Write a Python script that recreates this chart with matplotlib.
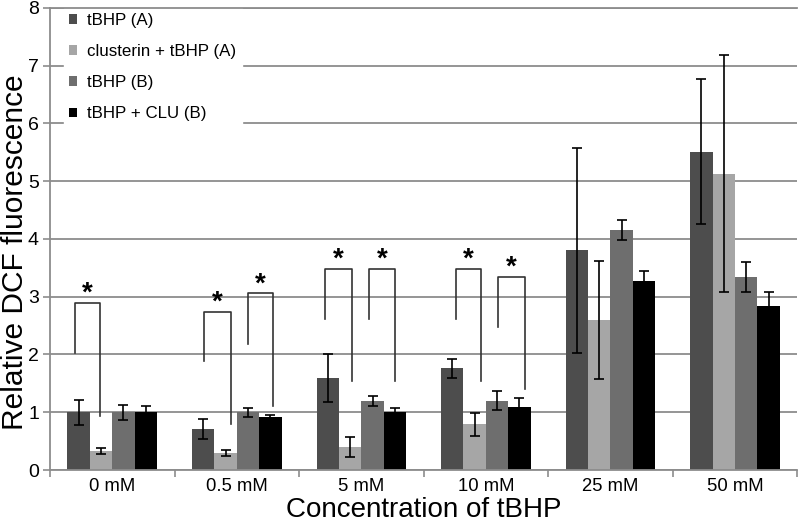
import matplotlib
matplotlib.use('Agg')
import matplotlib.pyplot as plt
import numpy as np

plt.rcParams['font.family'] = ['Liberation Sans', 'DejaVu Sans']

groups = ['0 mM', '0.5 mM', '5 mM', '10 mM', '25 mM', '50 mM']
series = ['tBHP (A)', 'clusterin + tBHP (A)', 'tBHP (B)', 'tBHP + CLU (B)']
colors = ['#4d4d4d', '#a6a6a6', '#6e6e6e', '#000000']

tbhp_a = [1.0, 0.71, 1.59, 1.76, 3.80, 5.51]
clu_a = [0.33, 0.30, 0.40, 0.79, 2.60, 5.13]
tbhp_b = [1.0, 1.0, 1.20, 1.20, 4.15, 3.34]
clu_b = [1.0, 0.91, 1.00, 1.09, 3.28, 2.84]

err_a = [0.22, 0.17, 0.42, 0.17, 1.78, 1.25]
err_clu_a = [0.05, 0.05, 0.18, 0.20, 1.02, 2.05]
err_b = [0.13, 0.08, 0.09, 0.16, 0.17, 0.26]
err_clu_b = [0.10, 0.05, 0.08, 0.15, 0.17, 0.25]

values = [tbhp_a, clu_a, tbhp_b, clu_b]
errors = [err_a, err_clu_a, err_b, err_clu_b]

# significance brackets: group, left x offset, right x offset, left leg bottom, top, right leg bottom
brackets = [
    (0, -0.30, -0.096, 2.02, 2.89, 0.94),
    (1, -0.265, -0.05, 1.88, 2.74, 0.80),
    (1, 0.088, 0.29, 2.18, 3.06, 1.10),
    (2, -0.29, -0.074, 2.62, 3.48, 1.54),
    (2, 0.06, 0.27, 2.62, 3.48, 1.54),
    (3, -0.243, -0.036, 2.62, 3.48, 1.54),
    (3, 0.097, 0.318, 2.48, 3.34, 1.40),
]

fig = plt.figure(figsize=(8, 5.24), dpi=100)
ax = fig.add_axes([0.0625, 0.103, 0.934, 0.882])

x = np.arange(len(groups))
w = 0.18
for i in range(4):
    ax.bar(x + (i - 1.5) * w, values[i], w, color=colors[i], label=series[i], zorder=2)
    ax.errorbar(x + (i - 1.5) * w, values[i], yerr=errors[i], fmt='none',
                ecolor='black', elinewidth=1.2, capsize=3.5, capthick=1.2, zorder=3)

for g, xl, xr, yl, yt, yr in brackets:
    ax.plot([g + xl, g + xl, g + xr, g + xr], [yl, yt, yt, yr], color='#333333', lw=1.2, zorder=4)
    ax.text(g + (xl + xr) / 2, yt - 0.07, '*', ha='center', va='bottom',
            fontsize=20, fontweight='bold', zorder=4)

ax.set_xlim(-0.5, len(groups) - 0.5)
ax.set_ylim(0, 8)
ax.set_yticks(range(0, 9))
ax.yaxis.grid(True, color='#8c8c8c', lw=1.3, zorder=0)
ax.set_axisbelow(True)

ax.set_xticks(x)
ax.set_xticklabels(groups, fontsize=13.3)
ax.set_xticks(np.arange(-0.5, len(groups)), minor=True)
ax.tick_params(axis='x', which='major', length=0, pad=6)
ax.tick_params(axis='x', which='minor', length=5, color='#8c8c8c', width=1.2)
ax.tick_params(axis='y', labelsize=14, length=5, color='#8c8c8c', width=1.2, pad=3)

ax.spines['right'].set_visible(False)
for s in ['left', 'bottom', 'top']:
    ax.spines[s].set_color('#8c8c8c')
    ax.spines[s].set_linewidth(1.3)
    ax.spines[s].set_zorder(2.5)

ax.set_xlabel('Concentration of tBHP', fontsize=20, labelpad=1)
ax.set_ylabel('Relative DCF fluorescence', fontsize=21.5)
ax.yaxis.set_label_coords(-0.028, 0.472)

leg = ax.legend(loc='upper left', bbox_to_anchor=(0.007, 1.018), frameon=True, fontsize=12.2,
                handlelength=0.5, handleheight=0.5, handletextpad=0.6, labelspacing=0.95,
                borderpad=0.3, fancybox=False)
leg.get_frame().set_edgecolor('white')
leg.get_frame().set_facecolor('white')
leg.get_frame().set_alpha(1)
leg.set_zorder(2.4)

fig.savefig('out.png', dpi=100)
